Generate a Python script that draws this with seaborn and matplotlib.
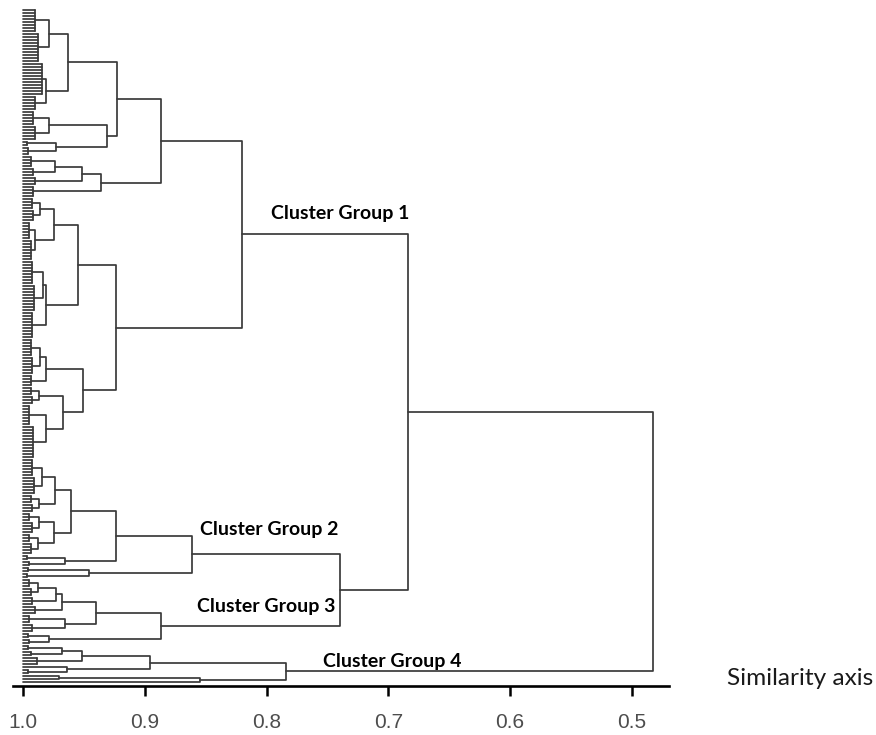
import numpy as np
import pandas as pd
import matplotlib
matplotlib.use("Agg")
import matplotlib.pyplot as plt
import seaborn as sns

# ---------------- data (similarity values) ----------------
# internal node: [similarity, upper_child, lower_child]
# terminal group: (number_of_leaves, similarity at which they join)
CLUSTER_1 = [0.820,
    [0.887,
        [0.923,
            [0.963,
                [0.979, (8, 0.990), (10, 0.988)],
                [0.981, (11, 0.985), (5, 0.990)]],
            [0.931,
                [0.979, (5, 0.992), (5, 0.990)],
                [0.973, (2, 0.997), (3, 0.996)]]],
        [0.936,
            [0.952,
                [0.974, (4, 0.994), (3, 0.992)],
                (3, 0.990)],
            (4, 0.992)]],
    [0.924,
        [0.955,
            [0.975,
                [0.986, (4, 0.993), (4, 0.992)],
                [0.990, (6, 0.995), (7, 0.994)]],
            [0.981,
                [0.984, (8, 0.993), (9, 0.991)],
                (9, 0.993)]],
        [0.951,
            [0.981,
                [0.986, (6, 0.994), (6, 0.993)],
                (4, 0.994)],
            [0.967,
                [0.987, (3, 0.994), (3, 0.993)],
                [0.981, (7, 0.995), (11, 0.992)]]]]]

CLUSTER_2 = [0.861,
    [0.924,
        [0.961,
            [0.974,
                [0.985, (6, 0.993), (6, 0.991)],
                [0.987, (3, 0.994), (3, 0.993)]],
            [0.975,
                [0.987, (3, 0.995), (4, 0.993)],
                [0.988, (3, 0.995), (4, 0.994)]]],
        [0.966, (2, 0.997), (2, 0.995)]],
    [0.946, (2, 0.996), (2, 0.997)]]

CLUSTER_3 = [0.887,
    [0.940,
        [0.968,
            [0.973, [0.988, (3, 0.995), (3, 0.994)], (3, 0.993)],
            (3, 0.990)],
        [0.966, (3, 0.995), (3, 0.993)]],
    [0.979, (2, 0.996), (2, 0.995)]]

CLUSTER_4 = [0.7845,
    [0.896,
        [0.952,
            [0.968, (2, 0.996), (2, 0.994)],
            (3, 0.989)],
        [0.964, (1, 1.0), (2, 0.996)]],
    [0.855, [0.971, (1, 1.0), (1, 1.0)], (1, 1.0)]]

SIM_GROUPS_2_3 = 0.740
SIM_GROUPS_1_23 = 0.684
SIM_ROOT = 0.4825

GROUP_LABELS = ["Cluster Group 1", "Cluster Group 2", "Cluster Group 3", "Cluster Group 4"]
X_TICKS = [1.0, 0.9, 0.8, 0.7, 0.6, 0.5]
X_TICK_LABELS = ["1.0", "0.9", "0.8", "0.7", "0.6", "0.5"]
AXIS_TITLE = "Similarity axis"

TREE = [SIM_ROOT,
        [SIM_GROUPS_1_23, CLUSTER_1, [SIM_GROUPS_2_3, CLUSTER_2, CLUSTER_3]],
        CLUSTER_4]

# ---------------- dendrogram layout ----------------
rows = []
state = {"leaf": 0, "unit": 0}


def add_path(points):
    u = state["unit"]
    state["unit"] += 1
    for j, (x, y) in enumerate(points):
        rows.append({"unit": u, "step": j, "sim": x, "leaf": y})


def walk(node):
    if isinstance(node, tuple):
        k, s = node
        start = state["leaf"]
        state["leaf"] += k
        if k == 1:
            return float(start), 1.0
        ys = np.arange(start, start + k, dtype=float)
        for y in ys:
            add_path([(1.0, y), (s, y)])
        add_path([(s, ys[0]), (s, ys[-1])])
        return (ys[0] + ys[-1]) / 2.0, s
    s, upper, lower = node
    yu, xu = walk(upper)
    yl, xl = walk(lower)
    add_path([(xu, yu), (s, yu), (s, yl), (xl, yl)])
    return (yu + yl) / 2.0, s


walk(TREE)
df = pd.DataFrame(rows)

# ---------------- drawing ----------------
sns.set_theme(style="white")
plt.rcParams["font.family"] = ["Liberation Sans", "DejaVu Sans"]

W, H = 876, 735
fig = plt.figure(figsize=(W / 100, H / 100), dpi=100)
ax = fig.add_axes([13.3 / W, 49 / H, 656 / W, 686 / H])

sns.lineplot(data=df, x="sim", y="leaf", units="unit", estimator=None,
             sort=False, color="#3a3a3a", linewidth=1.25, ax=ax)

ax.set_xlim(1.0082, 0.4692)
ax.set_ylim(225.33, -3.33)

for side in ["top", "left", "right"]:
    ax.spines[side].set_visible(False)
ax.spines["bottom"].set_linewidth(1.9)
ax.spines["bottom"].set_color("black")

ax.set_xticks(X_TICKS)
ax.set_xticklabels(X_TICK_LABELS)
ax.set_yticks([])
ax.tick_params(axis="x", bottom=True, direction="out", length=7.2, width=1.8,
               color="black", pad=12, labelsize=15, labelcolor="#4d4d4d")
ax.set_xlabel("")
ax.set_ylabel("")

label_font = dict(family=["Lato", "DejaVu Sans"], fontweight="bold",
                  fontsize=14, color="black", va="center", ha="left")
ax.text(0.7967, 68, GROUP_LABELS[0], **label_font)
ax.text(0.8548, 173.3, GROUP_LABELS[1], **label_font)
ax.text(0.8575, 198.7, GROUP_LABELS[2], **label_font)
ax.text(0.7535, 217.0, GROUP_LABELS[3], **label_font)

fig.text(726.7 / W, (H - 678.3) / H, AXIS_TITLE, family=["Lato", "DejaVu Sans"],
         fontsize=17.6, color="#1a1a1a", va="center", ha="left")

fig.savefig("out.png", dpi=100)
